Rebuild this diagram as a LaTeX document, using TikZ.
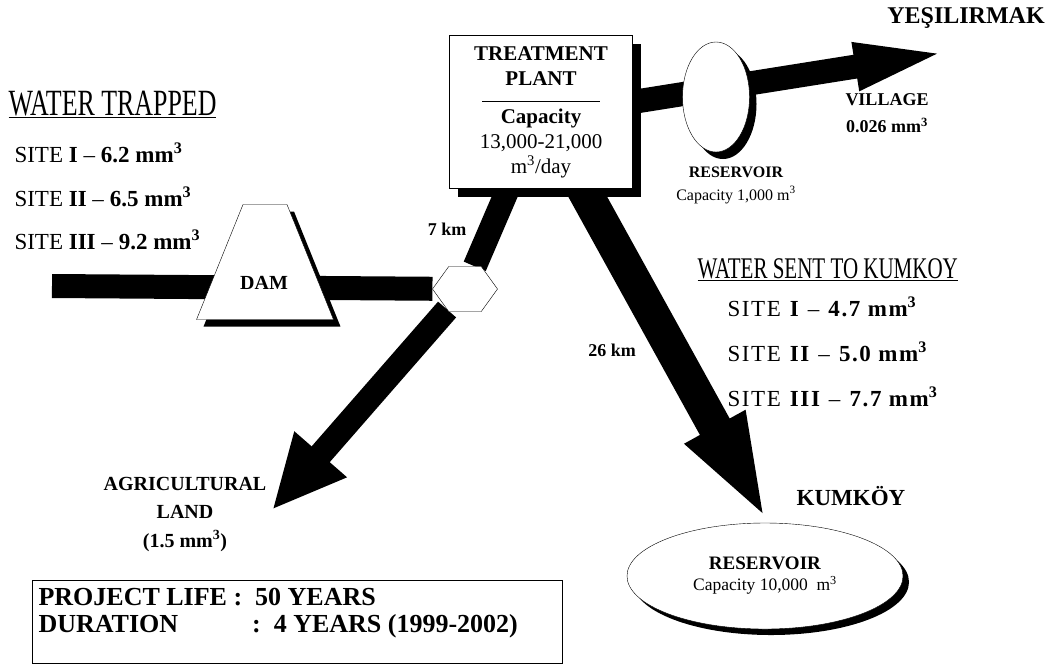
\documentclass[tikz,border=0pt]{standalone}
\usepackage{fontspec}
\setmainfont{Liberation Serif}
\newfontfamily\narrowfont[FakeStretch=0.70]{Liberation Serif}
\newfontfamily\spacedfont[LetterSpace=7]{Liberation Serif}
\usetikzlibrary{shapes.geometric,arrows.meta,shadows,backgrounds}
\newcommand{\cube}{\textsuperscript{3}}
\begin{document}
\begin{tikzpicture}[x=1pt,y=-1pt,
  pipe/.style={line width=24pt},
  blackshadow/.style={general shadow={fill=black,shadow xshift=#1,shadow yshift=-#1}},
  blackshadow/.default=7pt,
  lbl/.style={font=\fontsize{18}{21}\selectfont\bfseries,align=center},
  site/.style={font=\fontsize{23}{26}\selectfont,anchor=west},
  title/.style={font=\narrowfont\fontsize{37}{40}\selectfont,anchor=base west}]
\useasboundingbox (0,0) rectangle (1054,665);

% water trapped
\node[title] (trapped) at (5,115) {\underline{WATER TRAPPED}};
\node[site] (tsite1) at (11,153) {SITE \textbf{I} \textendash{} \textbf{6.2 mm\cube}};
\node[site] (tsite2) at (11,197) {SITE \textbf{II} \textendash{} \textbf{6.5 mm\cube}};
\node[site] (tsite3) at (11,240) {SITE \textbf{III} \textendash{} \textbf{9.2 mm\cube}};

% water sent
\node[title,font=\narrowfont\fontsize{30}{32}\selectfont] (sent) at (694,278) {\underline{WATER SENT TO KUMKOY}};
\node[site,font=\spacedfont\fontsize{23}{26}\selectfont] (ksite1) at (724,307) {SITE \textbf{I} \textendash{} \textbf{4.7 mm\cube}};
\node[site,font=\spacedfont\fontsize{23}{26}\selectfont] (ksite2) at (724,352) {SITE \textbf{II} \textendash{} \textbf{5.0 mm\cube}};
\node[site,font=\spacedfont\fontsize{23}{26}\selectfont] (ksite3) at (724,397) {SITE \textbf{III} \textendash{} \textbf{7.7 mm\cube}};

% works
\node[draw,fill=white,blackshadow=8pt,minimum width=183pt,minimum height=153pt,
  inner sep=0pt,align=center,font=\fontsize{21}{25}\selectfont] (plant) at (541,112)
  {\textbf{TREATMENT}\\\textbf{PLANT}\\[-8pt]\rule{118pt}{1pt}\\[-4pt]\textbf{Capacity}\\13,000-21,000\\m\cube/day};
\node[trapezium,draw,fill=white,blackshadow,trapezium angle=68,
  inner xsep=22pt,inner ysep=2pt] (dam) at (265,262) {\rule{0pt}{111pt}};
\node[lbl,font=\fontsize{20}{22}\selectfont\bfseries] (damtxt) at (264,283) {DAM};
\node[regular polygon,regular polygon sides=6,draw,fill=white,minimum size=65pt,
  yscale=0.8,inner sep=0pt] (hex) at (465,289) {};
\node[ellipse,draw,fill=white,blackshadow,minimum width=67pt,minimum height=110pt,
  inner sep=0pt] (res1) at (716,97) {};
\node[ellipse,draw,fill=white,blackshadow=6pt,minimum width=276pt,minimum height=106pt,
  align=center,font=\fontsize{17.5}{21}\selectfont] (res2) at (765,576)
  {\fontsize{19}{21}\selectfont\textbf{RESERVOIR}\\Capacity 10,000~ m\cube};

% labels
\node[lbl] (km7) at (447,229) {7 km};
\node[lbl] (km26) at (612,350) {26 km};
\node[lbl,font=\fontsize{24}{28}\selectfont\bfseries] (yesil) at (966,18) {YEŞILIRMAK};
\node[lbl,font=\fontsize{18}{27}\selectfont\bfseries] (village) at (887,113) {VILLAGE\\0.026 mm\cube};
\node[align=center,font=\fontsize{16}{23}\selectfont] (res1txt) at (736,185)
  {\textbf{RESERVOIR}\\Capacity 1,000 m\cube};
\node[lbl,font=\fontsize{23}{27}\selectfont\bfseries] (kumkoy) at (851,496) {KUMKÖY};
\node[lbl,font=\fontsize{20}{28.5}\selectfont\bfseries] (agri) at (185,514)
  {AGRICULTURAL\\LAND\\(1.5 mm\cube)};

% project box
\node[draw,anchor=north west,minimum width=530pt,minimum height=83pt] (lifebox) at (32,580) {};
\node[anchor=north west,align=left,font=\fontsize{26}{27}\selectfont\bfseries] (lifetxt)
  at (35,585) {PROJECT LIFE :\ \ 50 YEARS\\DURATION\hspace{74pt}:\ \ 4 YEARS (1999-2002)};

% pipes
\coordinate (pipeL) at (52,286);
\coordinate (ytip) at (960,50);
\coordinate (atip) at (272,510);
\coordinate (ktip) at (768,523);
\begin{scope}[on background layer]
\draw[pipe] (pipeL) -- (hex);
\draw[pipe] (hex) -- (plant);
\draw[pipe,-{Triangle[length=74pt,width=64pt]}] (hex) -- (atip);
\draw[pipe,line width=34pt,-{Triangle[length=110pt,width=60pt]}] (plant) -- (ktip);
\draw[pipe,-{Triangle[length=106pt,width=40pt]}] ([yshift=10pt]plant.east) -- (ytip);
\end{scope}
\end{tikzpicture}
\end{document}
